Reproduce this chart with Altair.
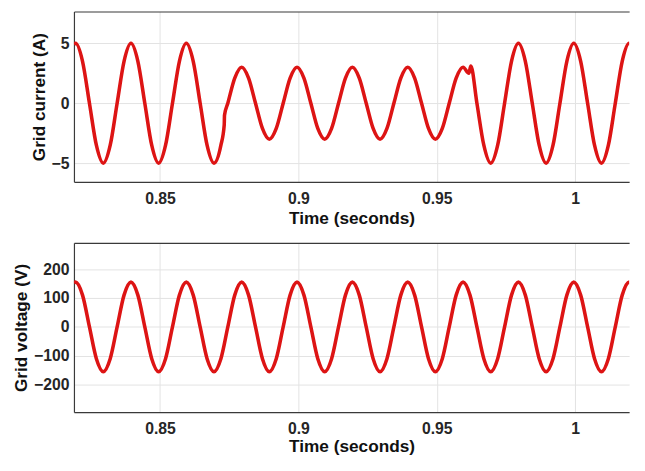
import altair as alt
import pandas as pd

# ---- data ----
cur_t = [0.8189, 0.8195, 0.822, 0.8245, 0.827, 0.8295, 0.832, 0.8345, 0.837,
         0.8395, 0.842, 0.8445, 0.847, 0.8495, 0.852, 0.8545, 0.857,
         0.8595, 0.862, 0.8645, 0.867, 0.8695, 0.872, 0.8732, 0.8733,
         0.8745, 0.877, 0.8795, 0.882, 0.8845, 0.887, 0.8895, 0.892, 0.8945, 0.897,
         0.8995, 0.902, 0.9045, 0.907, 0.9095, 0.912, 0.9145, 0.917,
         0.9195, 0.922, 0.9245, 0.927, 0.9295, 0.932, 0.9345, 0.937,
         0.9395, 0.942, 0.9445, 0.947, 0.9495, 0.952, 0.9545, 0.957,
         0.9595, 0.9616, 0.9623, 0.9645, 0.967, 0.9695, 0.972, 0.9745, 0.977,
         0.9795, 0.982, 0.9845, 0.987, 0.9895, 0.992, 0.9945, 0.997,
         0.9995, 1.002, 1.0045, 1.007, 1.0095, 1.012, 1.0145, 1.017,
         1.0195, 1.022, 1.0223]
cur_v = [4.9, 5.0, 3.5, 0.0, -3.5, -5.0, -3.5, 0.0, 3.5,
         5.0, 3.5, 0.0, -3.5, -5.0, -3.5, 0.0, 3.5,
         5.0, 3.5, 0.0, -3.5, -5.0, -3.5, -1.8, -1.0,
         0.0, 2.1, 3.0, 2.1, 0.0, -2.1, -3.0, -2.1, 0.0, 2.1,
         3.0, 2.1, 0.0, -2.1, -3.0, -2.1, 0.0, 2.1,
         3.0, 2.1, 0.0, -2.1, -3.0, -2.1, 0.0, 2.1,
         3.0, 2.1, 0.0, -2.1, -3.0, -2.1, 0.0, 2.1,
         3.0, 2.5, 3.1, 0.0, -3.5, -5.0, -3.5, 0.0, 3.5,
         5.0, 3.5, 0.0, -3.5, -5.0, -3.5, 0.0, 3.5,
         5.0, 3.5, 0.0, -3.5, -5.0, -3.5, 0.0, 3.5,
         5.0, 3.5, 3.2]

volt_t = [0.8189, 0.8195, 0.822, 0.8245, 0.827, 0.8295, 0.832, 0.8345, 0.837,
          0.8395, 0.842, 0.8445, 0.847, 0.8495, 0.852, 0.8545, 0.857,
          0.8595, 0.862, 0.8645, 0.867, 0.8695, 0.872, 0.8745, 0.877,
          0.8795, 0.882, 0.8845, 0.887, 0.8895, 0.892, 0.8945, 0.897,
          0.8995, 0.902, 0.9045, 0.907, 0.9095, 0.912, 0.9145, 0.917,
          0.9195, 0.922, 0.9245, 0.927, 0.9295, 0.932, 0.9345, 0.937,
          0.9395, 0.942, 0.9445, 0.947, 0.9495, 0.952, 0.9545, 0.957,
          0.9595, 0.962, 0.9645, 0.967, 0.9695, 0.972, 0.9745, 0.977,
          0.9795, 0.982, 0.9845, 0.987, 0.9895, 0.992, 0.9945, 0.997,
          0.9995, 1.002, 1.0045, 1.007, 1.0095, 1.012, 1.0145, 1.017,
          1.0195, 1.022, 1.0223]
volt_v = [153, 155, 110, 0, -110, -155, -110, 0, 110,
          155, 110, 0, -110, -155, -110, 0, 110,
          155, 110, 0, -110, -155, -110, 0, 110,
          155, 110, 0, -110, -155, -110, 0, 110,
          155, 110, 0, -110, -155, -110, 0, 110,
          155, 110, 0, -110, -155, -110, 0, 110,
          155, 110, 0, -110, -155, -110, 0, 110,
          155, 110, 0, -110, -155, -110, 0, 110,
          155, 110, 0, -110, -155, -110, 0, 110,
          155, 110, 0, -110, -155, -110, 0, 110,
          155, 110, 97]

x_ticks = [0.85, 0.9, 0.95, 1.0]
cur_ticks = [-5, 0, 5]
volt_ticks = [-200, -100, 0, 100, 200]

X_DOMAIN = [0.8189, 1.0195]
RED = "#dd1414"
FONT = "Liberation Sans"
W = 564

cur_df = pd.DataFrame({"t": cur_t, "v": cur_v})
volt_df = pd.DataFrame({"t": volt_t, "v": volt_v})


def panel(df, ylabel, ydomain, yticks, height, x_title_pad):
    xscale = alt.Scale(domain=X_DOMAIN, nice=False, zero=False)
    yscale = alt.Scale(domain=ydomain, nice=False, zero=False)
    yaxis = alt.Axis(title=ylabel, values=yticks, orient="left")
    line = alt.Chart(df).mark_line(color=RED, strokeWidth=3.6, clip=True,
                                   interpolate="monotone").encode(
        x=alt.X("t:Q", scale=xscale,
                axis=alt.Axis(title="Time (seconds)", values=x_ticks,
                              titlePadding=x_title_pad,
                              labelExpr="datum.value == 1 ? '1' : format(datum.value, '.2~f')",
                              orient="bottom")),
        y=alt.Y("v:Q", scale=yscale, axis=yaxis),
    )
    top = alt.Chart(df).mark_line(opacity=0).encode(
        x=alt.X("t:Q", scale=xscale,
                axis=alt.Axis(title=None, labels=False, ticks=False, grid=False,
                              orient="top", values=x_ticks)),
        y=alt.Y("v:Q", scale=yscale, axis=yaxis),
    )
    return alt.layer(line, top).resolve_axis(x="independent").properties(
        width=W, height=height)


chart = alt.vconcat(
    panel(cur_df, "Grid current (A)", [-6.55, 7.65], cur_ticks, 173, 3),
    panel(volt_df, "Grid voltage (V)", [-295, 291], volt_ticks, 172, 1),
    spacing=16,
).properties(
    padding={"left": 4, "top": 0, "right": 0, "bottom": -3}
).configure_view(stroke=None).configure_axis(
    labelFont=FONT, titleFont=FONT, labelFontWeight="bold", titleFontWeight="bold",
    labelFontSize=16, titleFontSize=17.5, labelColor="#262626", titleColor="#111111",
    domainColor="#3a3a3a", domainWidth=1.2, ticks=False,
    gridColor="#e2e2e2", gridWidth=1, labelPadding=9, titlePadding=3,
).configure_axisY(labelPadding=5, titlePadding=3, titleFontSize=17.5)

chart.save("out.html", embed_options={"renderer": "svg", "actions": False})
